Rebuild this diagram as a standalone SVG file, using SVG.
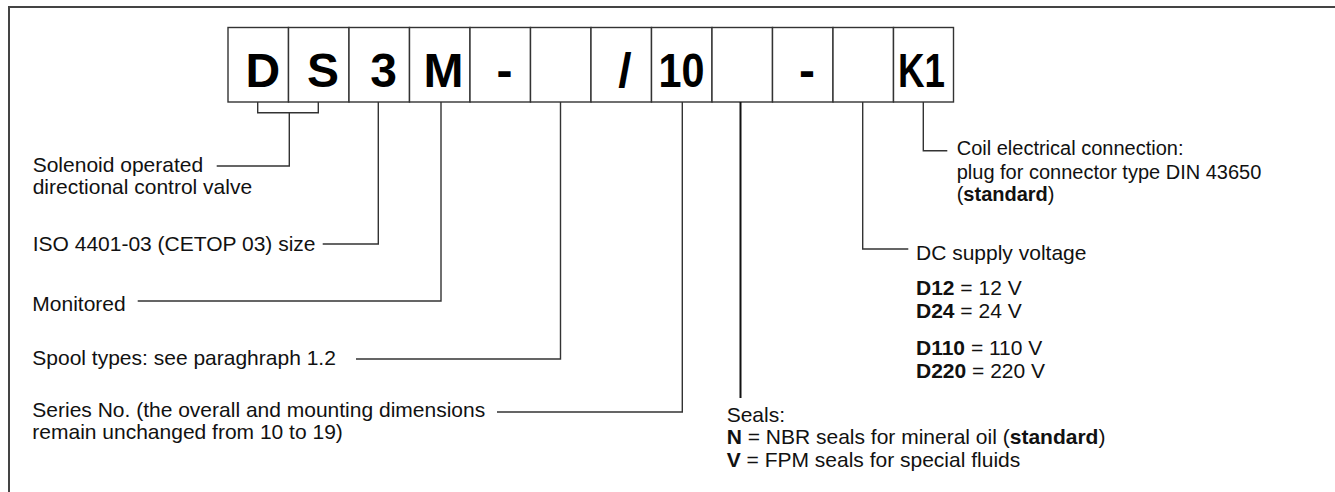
<svg xmlns="http://www.w3.org/2000/svg" width="1335" height="492" viewBox="0 0 1335 492">
  <style>
    .cell { fill: #ffffff; stroke: #333333; stroke-width: 1.4; }
    .code { font-family: "Liberation Sans", Arial, sans-serif; font-weight: bold; font-size: 48px; fill: #000000; text-anchor: middle; }
    .lbl { font-family: "Liberation Sans", Arial, sans-serif; font-size: 21px; fill: #111111; }
    .lbl20 { font-family: "Liberation Sans", Arial, sans-serif; font-size: 20px; fill: #111111; }
    .b { font-weight: bold; }
    .wire { fill: none; stroke: #333333; stroke-width: 1.4; }
    .wire-heavy { fill: none; stroke: #111111; stroke-width: 2; }
    .frame { fill: none; stroke: #444444; stroke-width: 2; }
  </style>

  <!-- outer frame -->
  <path class="frame" d="M9,492 V7 H1335"/>

  <!-- ordering code cells -->
  <g id="cell-D"><rect class="cell" x="228" y="27.5" width="60.5" height="74.5"/><text class="code" x="262.8" y="87.3">D</text></g>
  <g id="cell-S"><rect class="cell" x="288.5" y="27.5" width="60.5" height="74.5"/><text class="code" x="323" y="87.3">S</text></g>
  <g id="cell-3"><rect class="cell" x="349" y="27.5" width="60.5" height="74.5"/><text class="code" x="383.7" y="87.3">3</text></g>
  <g id="cell-M"><rect class="cell" x="409.5" y="27.5" width="60.5" height="74.5"/><text class="code" x="443.5" y="87.3">M</text></g>
  <g id="cell-dash1"><rect class="cell" x="470" y="27.5" width="60.5" height="74.5"/><text class="code" x="504.5" y="87.3">-</text></g>
  <g id="cell-spool"><rect class="cell" x="530.5" y="27.5" width="60.5" height="74.5"/></g>
  <g id="cell-slash"><rect class="cell" x="591" y="27.5" width="60.5" height="74.5"/><text class="code" x="625" y="87.3">/</text></g>
  <g id="cell-10"><rect class="cell" x="651.5" y="27.5" width="60.5" height="74.5"/><text class="code" x="681.5" y="87.3" textLength="46" lengthAdjust="spacingAndGlyphs">10</text></g>
  <g id="cell-seals"><rect class="cell" x="712" y="27.5" width="60.5" height="74.5"/></g>
  <g id="cell-dash2"><rect class="cell" x="772.5" y="27.5" width="60.5" height="74.5"/><text class="code" x="807" y="87.3">-</text></g>
  <g id="cell-voltage"><rect class="cell" x="833" y="27.5" width="60.5" height="74.5"/></g>
  <g id="cell-K1"><rect class="cell" x="893.5" y="27.5" width="60" height="74.5"/><text class="code" x="921.5" y="87.3" textLength="47" lengthAdjust="spacingAndGlyphs">K1</text></g>

  <!-- leader lines -->
  <g id="connectors">
    <path class="wire" d="M257.7,102 V112.7 H318.3 V102"/>
    <path class="wire" d="M289.3,112.7 V166 H216.7"/>
    <path class="wire" d="M378.3,102 V244 H322.7"/>
    <path class="wire" d="M441,102 V301 H137.7"/>
    <path class="wire" d="M560.5,102 V359 H356"/>
    <path class="wire" d="M682.3,102 V412 H497"/>
    <path class="wire-heavy" d="M740.5,102 V398"/>
    <path class="wire" d="M862.7,102 V249 H908.3"/>
    <path class="wire" d="M923.3,102 V150.7 H947.3"/>
  </g>

  <!-- descriptions -->
  <g id="label-type">
    <text class="lbl" x="32.7" y="171.7">Solenoid operated</text>
    <text class="lbl" x="32.7" y="194.3">directional control valve</text>
  </g>
  <g id="label-size"><text class="lbl" x="32.7" y="250.7">ISO 4401-03 (CETOP 03) size</text></g>
  <g id="label-monitored"><text class="lbl" x="32.3" y="311">Monitored</text></g>
  <g id="label-spool"><text class="lbl" x="32.3" y="365">Spool types: see paraghraph 1.2</text></g>
  <g id="label-series">
    <text class="lbl" x="32.3" y="417">Series No. (the overall and mounting dimensions</text>
    <text class="lbl" x="32.3" y="439">remain unchanged from 10 to 19)</text>
  </g>
  <g id="label-seals">
    <text class="lbl" x="726.7" y="421.7">Seals:</text>
    <text class="lbl" x="726.7" y="444.3"><tspan class="b">N</tspan> = NBR seals for mineral oil (<tspan class="b">standard</tspan>)</text>
    <text class="lbl" x="726.7" y="466.7"><tspan class="b">V</tspan> = FPM seals for special fluids</text>
  </g>
  <g id="label-voltage">
    <text class="lbl" x="916" y="260">DC supply voltage</text>
    <text class="lbl" x="916" y="295"><tspan class="b">D12</tspan> = 12 V</text>
    <text class="lbl" x="916" y="318.3"><tspan class="b">D24</tspan> = 24 V</text>
    <text class="lbl" x="916" y="355"><tspan class="b">D110</tspan> = 110 V</text>
    <text class="lbl" x="916" y="378.3"><tspan class="b">D220</tspan> = 220 V</text>
  </g>
  <g id="label-coil">
    <text class="lbl20" x="956.7" y="155">Coil electrical connection:</text>
    <text class="lbl20" x="956.7" y="179">plug for connector type DIN 43650</text>
    <text class="lbl20" x="956.7" y="201">(<tspan class="b">standard</tspan>)</text>
  </g>
</svg>
